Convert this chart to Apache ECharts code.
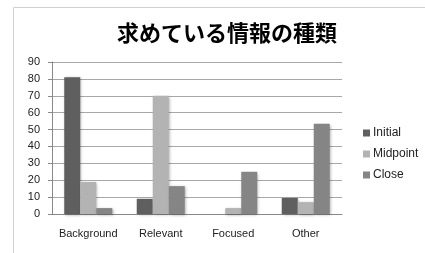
<!DOCTYPE html>
<html>
<head>
<meta charset="utf-8">
<script src="https://cdn.jsdelivr.net/npm/echarts@6/dist/echarts.min.js"></script>
<style>
  html, body { margin: 0; padding: 0; background: #fff; }
  #chart { width: 425px; height: 253px; }
</style>
</head>
<body>
<div id="chart"></div>
<script>
// chart data
var categories = ['Background', 'Relevant', 'Focused', 'Other'];
var initialData = [81, 9, 0, 9.5];
var midpointData = [19, 70, 3.5, 7];
var closeData = [3.5, 16.5, 25, 53.5];
var yTicks = [0, 90, 10]; // min, max, interval

var chart = echarts.init(document.getElementById('chart'));

function barSeries(name, color, data) {
  return {
    name: name,
    type: 'bar',
    data: data,
    barWidth: 16,
    barGap: '0%',
    itemStyle: {
      color: color,
      shadowBlur: 3,
      shadowColor: 'rgba(0,0,0,0.35)',
      shadowOffsetX: 1,
      shadowOffsetY: 1
    }
  };
}

chart.setOption({
  animation: false,
  title: {
    text: '求めている情報の種類',
    left: 112,
    top: 17,
    textStyle: {
      fontFamily: 'Noto Sans CJK JP',
      fontWeight: 'bold',
      fontSize: 22,
      color: '#000'
    }
  },
  graphic: [{
    type: 'rect',
    shape: { x: 13.5, y: 7.5, width: 600, height: 600 },
    style: { fill: 'none', stroke: '#d0d0d0', lineWidth: 1 },
    silent: true
  }],
  legend: {
    orient: 'vertical',
    left: 358,
    top: 122,
    icon: 'rect',
    itemWidth: 7,
    itemHeight: 7,
    itemGap: 9,
    textStyle: { fontFamily: 'Liberation Sans', fontSize: 12, color: '#222', padding: [0, 0, 0, -2] },
    data: ['Initial', 'Midpoint', 'Close']
  },
  grid: { left: 52, right: 83, top: 62, bottom: 39 },
  xAxis: {
    type: 'category',
    data: categories,
    axisLine: { lineStyle: { color: '#888' } },
    axisTick: { show: false },
    axisLabel: { interval: 0, margin: 14, fontFamily: 'Liberation Sans', fontSize: 11, color: '#222' }
  },
  yAxis: {
    type: 'value',
    min: yTicks[0],
    max: yTicks[1],
    interval: yTicks[2],
    axisLine: { show: true, lineStyle: { color: '#888' } },
    axisTick: { show: true, length: 4, lineStyle: { color: '#888' } },
    splitLine: { lineStyle: { color: '#a8a8a8' } },
    axisLabel: { margin: 12, fontFamily: 'Liberation Sans', fontSize: 11, color: '#222' }
  },
  series: [
    barSeries('Initial', '#5f5f5f', initialData),
    barSeries('Midpoint', '#b3b3b3', midpointData),
    barSeries('Close', '#858585', closeData)
  ]
});
</script>
</body>
</html>
